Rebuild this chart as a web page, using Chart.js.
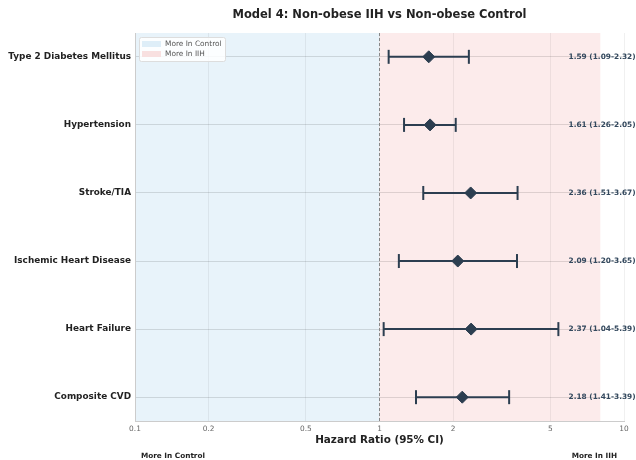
<html>
<head>
<script src="https://cdn.jsdelivr.net/npm/chart.js@4.4.0/dist/chart.umd.min.js"></script>
<style>
  body { margin: 0; background: #fff; }
  #wrap { width: 636px; height: 460px; }
</style>
</head>
<body>
<div id="wrap"><canvas id="myChart"></canvas></div>
<script>
// data
var outcomes = ["Type 2 Diabetes Mellitus", "Hypertension", "Stroke/TIA",
                "Ischemic Heart Disease", "Heart Failure", "Composite CVD"];
var hr     = [1.59, 1.61, 2.36, 2.09, 2.37, 2.18];
var ciLow  = [1.09, 1.26, 1.51, 1.20, 1.04, 1.41];
var ciHigh = [2.32, 2.05, 3.67, 3.65, 5.39, 3.39];
var xTicks = [0.1, 0.2, 0.5, 1, 2, 5, 10];

var navy = "#2c3e50";
var font = "DejaVu Sans";

var datasets = [];
// confidence intervals, one small dataset per row
outcomes.forEach(function (name, i) {
    datasets.push({
        data: [{x: ciLow[i], y: i}, {x: ciHigh[i], y: i}],
        showLine: true,
        borderColor: navy,
        borderWidth: 2,
        pointStyle: "line",
        rotation: 90,
        pointRadius: 7,
        pointBorderWidth: 2,
        pointBorderColor: navy
    });
});
// hazard ratios
datasets.push({
    data: hr.map(function (v, i) { return {x: v, y: i}; }),
    pointStyle: "rectRot",
    pointRadius: 6,
    backgroundColor: navy,
    borderColor: navy,
    borderWidth: 1
});
// reference line at 1
datasets.push({
    data: [{x: 1, y: -0.35}, {x: 1, y: 5.35}],
    showLine: true,
    pointRadius: 0,
    borderColor: "#888",
    borderWidth: 1,
    borderDash: [3, 2]
});

var decor = {
    id: "decor",
    beforeDraw: function (chart) {
        var c = chart.ctx, a = chart.chartArea, xs = chart.scales.x;
        c.save();
        c.fillStyle = "#fff";
        c.fillRect(0, 0, chart.width, chart.height);
        var x01 = xs.getPixelForValue(0.1), x1 = xs.getPixelForValue(1), x8 = xs.getPixelForValue(8);
        c.fillStyle = "#e8f3fa";
        c.fillRect(x01, a.top, x1 - x01, a.bottom - a.top);
        c.fillStyle = "#fcebeb";
        c.fillRect(x1, a.top, x8 - x1, a.bottom - a.top);
        c.restore();
    },
    afterDatasetsDraw: function (chart) {
        var c = chart.ctx, xs = chart.scales.x, ys = chart.scales.y, a = chart.chartArea;
        c.save();
        // title, centred over the plot
        c.font = "bold 11.5px '" + font + "'";
        c.fillStyle = "#222";
        c.textAlign = "center";
        c.textBaseline = "middle";
        c.fillText("Model 4: Non-obese IIH vs Non-obese Control", (a.left + a.right) / 2, 15);
        // value labels
        c.font = "bold 7.4px '" + font + "'";
        c.fillStyle = "#34495e";
        c.textAlign = "left";
        var tx = xs.getPixelForValue(5.93);
        hr.forEach(function (v, i) {
            var s = v.toFixed(2) + " (" + ciLow[i].toFixed(2) + "-" + ciHigh[i].toFixed(2) + ")";
            c.fillText(s, tx, ys.getPixelForValue(i));
        });
        // legend box
        var lx = a.left + 4, ly = a.top + 4;
        c.fillStyle = "rgba(255,255,255,0.85)";
        c.strokeStyle = "#dddddd";
        c.lineWidth = 1;
        c.beginPath();
        c.roundRect(lx + 0.5, ly + 0.5, 86, 24, 2);
        c.fill();
        c.stroke();
        c.fillStyle = "#deeef8";
        c.fillRect(lx + 3, ly + 4, 19, 6);
        c.fillStyle = "#f8e0e0";
        c.fillRect(lx + 3, ly + 14, 19, 6);
        c.font = "7.4px '" + font + "'";
        c.fillStyle = "#555";
        c.fillText("More In Control", lx + 26, ly + 7);
        c.fillText("More In IIH", lx + 26, ly + 17);
        // bottom direction labels
        c.font = "bold 7.3px '" + font + "'";
        c.fillStyle = "#222";
        c.fillText("More In Control", 141, 456);
        c.textAlign = "right";
        c.fillText("More In IIH", 617, 456);
        c.restore();
    }
};

var ctx = document.getElementById("myChart").getContext("2d");
var chart = new Chart(ctx, {
    type: "scatter",
    data: {datasets: datasets},
    plugins: [decor],
    options: {
        animation: false,
        responsive: true,
        maintainAspectRatio: false,
        layout: {padding: {top: 33, right: 12, bottom: 12, left: 0}},
        plugins: {
            legend: {display: false},
            tooltip: {enabled: false},
            title: {display: false}
        },
        scales: {
            x: {
                type: "logarithmic",
                min: 0.1,
                max: 10,
                afterBuildTicks: function (s) {
                    s.ticks = xTicks.map(function (v) { return {value: v}; });
                },
                afterFit: function (s) { s.height = 27; },
                ticks: {
                    color: "#666",
                    font: {family: font, size: 7.4},
                    padding: 4,
                    maxRotation: 0,
                    callback: function (v) { return String(v); }
                },
                grid: {color: "rgba(0,0,0,0.06)", drawTicks: false},
                border: {color: "#cccccc"},
                title: {
                    display: true,
                    text: "Hazard Ratio (95% CI)",
                    color: "#222",
                    font: {family: font, size: 10.4, weight: "bold"},
                    padding: {top: 0, bottom: 1}
                }
            },
            y: {
                type: "linear",
                min: -0.35,
                max: 5.35,
                reverse: true,
                afterBuildTicks: function (s) {
                    s.ticks = outcomes.map(function (n, i) { return {value: i}; });
                },
                afterFit: function (s) { s.width = 135; },
                ticks: {
                    color: "#222",
                    font: {family: font, size: 8.9, weight: "bold"},
                    padding: 4,
                    callback: function (v) { return outcomes[v]; }
                },
                grid: {color: "rgba(0,0,0,0.12)", drawTicks: false},
                border: {color: "#cccccc"}
            }
        }
    }
});
</script>
</body>
</html>
